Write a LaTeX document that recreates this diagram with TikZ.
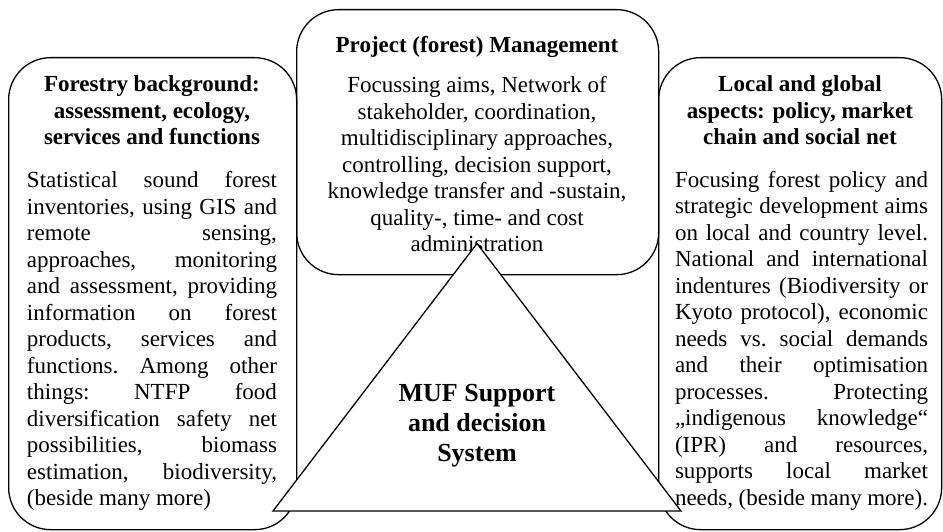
\documentclass[tikz,border=0pt]{standalone}
\usepackage{fontspec}
\setmainfont{Liberation Serif}
\newcommand{\txtsize}{\fontsize{23}{26.5}\selectfont}
\newcommand{\mufsize}{\fontsize{26}{30}\selectfont}
\begin{document}
\begin{tikzpicture}[x=1pt,y=-1pt,
  box/.style={draw, line width=1.3pt, rounded corners=42pt, inner sep=0pt, anchor=north west},
  txt/.style={inner sep=0pt, anchor=base},
  tri/.style={draw, fill=white, line width=1.3pt, line join=miter}]
\useasboundingbox (0,0) rectangle (943,532);
% frames
\node[box, minimum width=288pt, minimum height=472pt] (lbox) at (8,57) {};
\node[box, minimum width=283pt, minimum height=472pt] (rbox) at (658,57) {};
\node[box, minimum width=362pt, minimum height=265pt] (mbox) at (296,9) {};
% left texts
\node[txt] (lhead) at (152,91.7) {\begin{minipage}[t]{286pt}\centering\txtsize\bfseries
Forestry background:\\ assessment, ecology,\\ services and functions\end{minipage}};
\node[txt] (lbody) at (152,188) {\begin{minipage}[t]{250pt}\txtsize\sloppy\frenchspacing\hyphenpenalty=10000
Statistical sound forest\linebreak inventories, using GIS and\linebreak remote sensing,\linebreak approaches, monitoring\linebreak and assessment, providing\linebreak information on forest\linebreak products, services and\linebreak functions. Among other\linebreak things: NTFP food\linebreak diversification safety net\linebreak possibilities, biomass\linebreak estimation, biodiversity,\linebreak (beside many more)\end{minipage}};
% right texts
\node[txt] (rhead) at (800,91.7) {\begin{minipage}[t]{280pt}\centering\txtsize\bfseries
Local and global\\ aspects: policy, market\\ chain and social net\end{minipage}};
\node[txt] (rbody) at (801.5,187.5) {\begin{minipage}[t]{253pt}\txtsize\sloppy\frenchspacing\hyphenpenalty=10000
Focusing forest policy and\linebreak strategic development aims\linebreak on local and country level.\linebreak National and international\linebreak indentures (Biodiversity or\linebreak Kyoto protocol), economic\linebreak needs vs. social demands\linebreak and their optimisation\linebreak processes. Protecting\linebreak „indigenous knowledge“\linebreak (IPR) and resources,\linebreak supports local market\linebreak needs, (beside many more).\end{minipage}};
% middle texts
\node[txt] (mhead) at (477,52.3) {\begin{minipage}[t]{355pt}\centering\txtsize\bfseries
Project (forest) Management\end{minipage}};
\node[txt] (mbody) at (477,93) {\begin{minipage}[t]{355pt}\centering\txtsize
Focussing aims, Network of\\ stakeholder, coordination,\\ multidisciplinary approaches,\\ controlling, decision support,\\ knowledge transfer and -sustain,\\ quality-, time- and cost\\ administration\end{minipage}};
% triangle
\coordinate (tl) at (273,511);
\coordinate (tt) at (477,243.5);
\coordinate (tr) at (681,511);
\draw[tri] (tl) -- (tt) -- (tr) -- cycle;
\node[txt] (muf) at (477,401) {\begin{minipage}[t]{200pt}\centering\mufsize\bfseries
MUF Support\\ and decision\\ System\end{minipage}};
\end{tikzpicture}
\end{document}
